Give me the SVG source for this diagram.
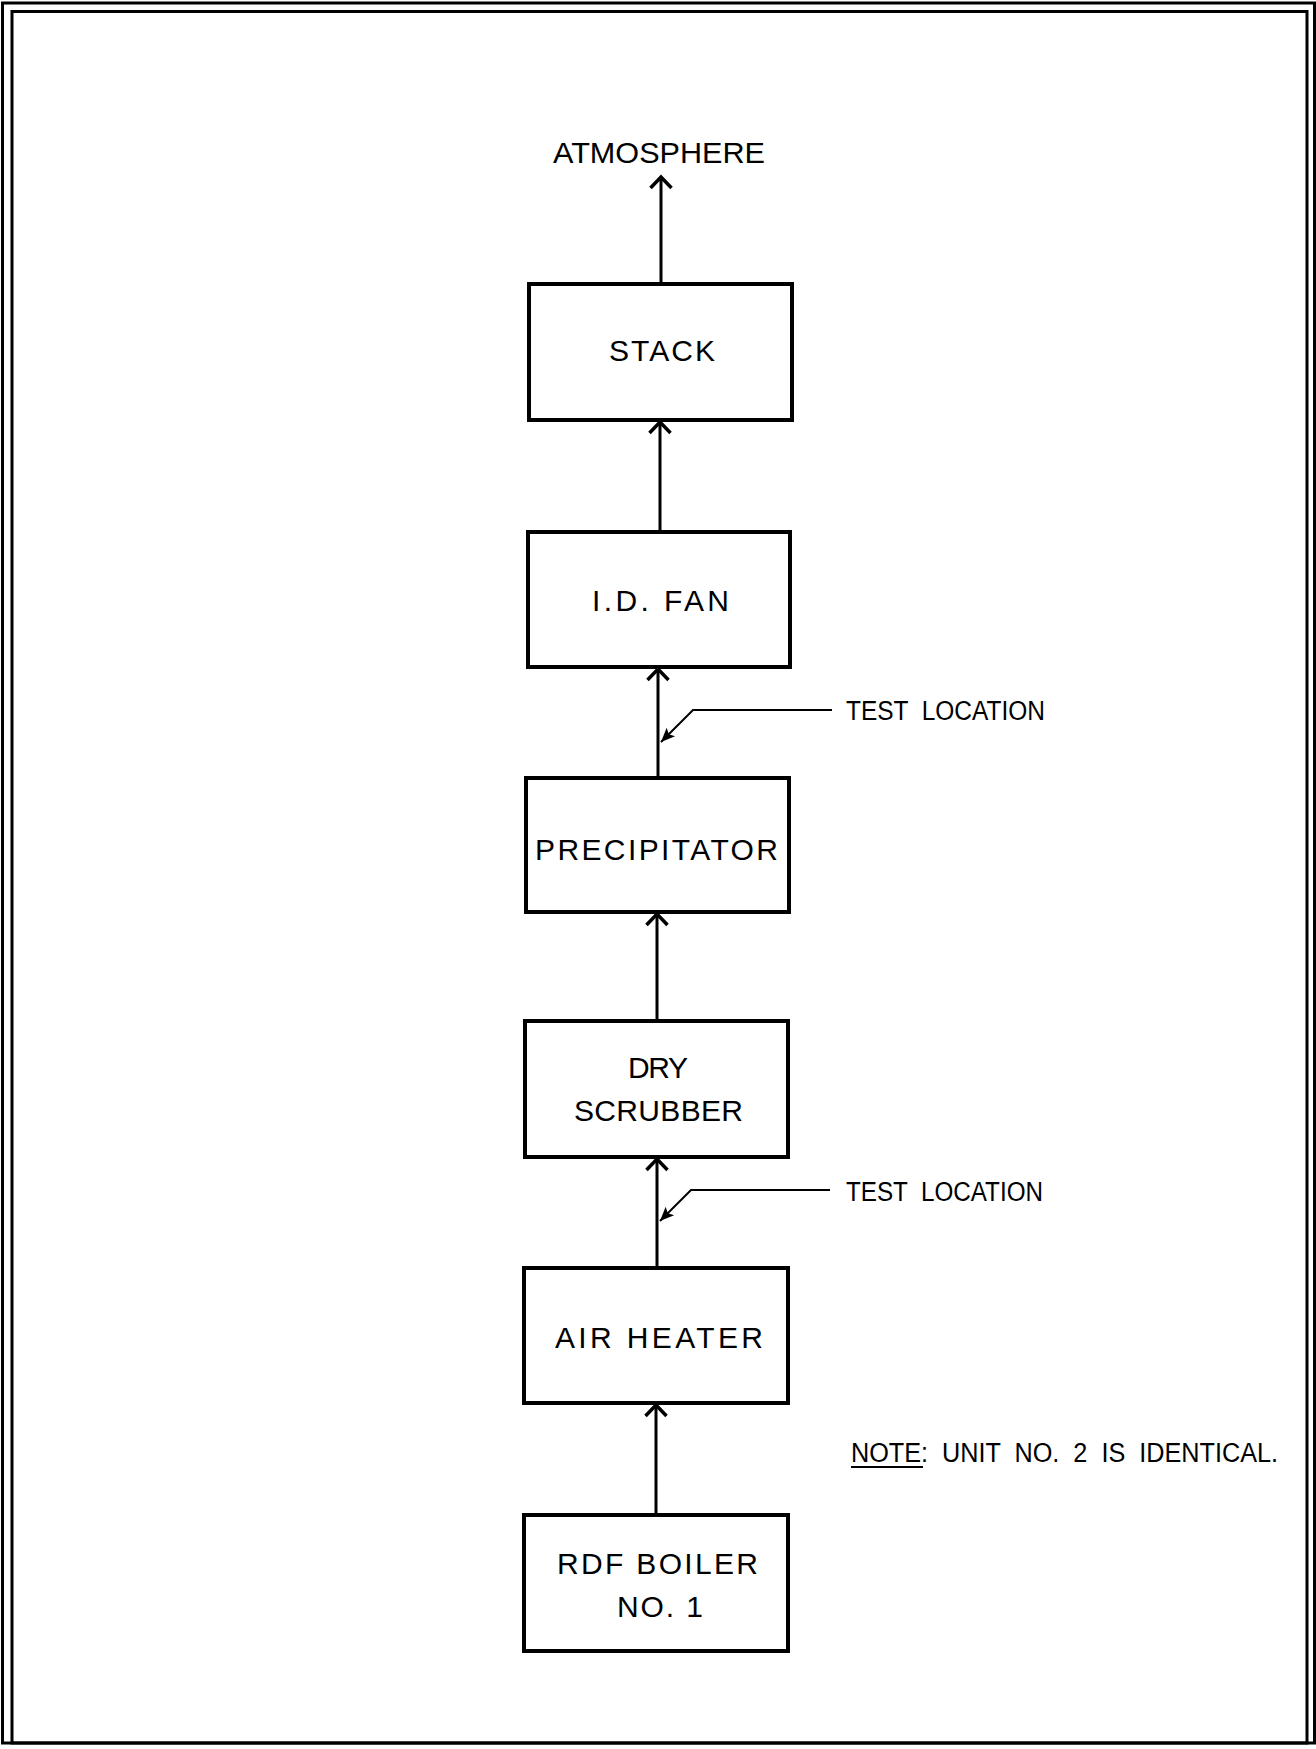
<svg xmlns="http://www.w3.org/2000/svg" width="1316" height="1749" viewBox="0 0 1316 1749">
<defs>
<style>
.box{fill:#fff;stroke:#000;stroke-width:4}
.frame{fill:none;stroke:#000}
.lbl{font-family:"Liberation Sans",Arial,sans-serif;font-size:30px;fill:#000}
.sm{font-family:"Liberation Sans",Arial,sans-serif;font-size:27px;fill:#000}
.flow{fill:none;stroke:#000;stroke-width:3}
.lead{fill:none;stroke:#000;stroke-width:2}
</style>
<marker id="open" markerUnits="userSpaceOnUse" markerWidth="30" markerHeight="30" refX="20" refY="15" orient="auto" viewBox="0 0 30 30" overflow="visible">
<path d="M9,4.5 L20,15 L9,25.5" fill="none" stroke="#000" stroke-width="3.5"/>
</marker>
<marker id="solid" markerUnits="userSpaceOnUse" markerWidth="20" markerHeight="20" refX="16" refY="10" orient="auto" viewBox="0 0 20 20" overflow="visible">
<path d="M2,4 L16,10 L2,16 L5,10 Z" fill="#000"/>
</marker>
</defs>
<rect width="1316" height="1749" fill="#fff"/>
<rect class="frame" x="2.5" y="3" width="1312" height="1740" stroke-width="3"/>
<rect class="frame" x="12" y="11.5" width="1295" height="1731.5" stroke-width="3"/>

<g id="connectors">
<line class="flow" x1="661" y1="283" x2="661" y2="177" marker-end="url(#open)"/>
<line class="flow" x1="660" y1="531" x2="660" y2="422" marker-end="url(#open)"/>
<line class="flow" x1="658" y1="777" x2="658" y2="669" marker-end="url(#open)"/>
<line class="flow" x1="657" y1="1020" x2="657" y2="914" marker-end="url(#open)"/>
<line class="flow" x1="657" y1="1268" x2="657" y2="1159" marker-end="url(#open)"/>
<line class="flow" x1="656" y1="1515" x2="656" y2="1405" marker-end="url(#open)"/>
<polyline class="lead" points="832,710 693,710 661,742" marker-end="url(#solid)"/>
<polyline class="lead" points="830,1190 691,1190 660,1221" marker-end="url(#solid)"/>
</g>

<g id="atmosphere">
<text class="lbl" x="553" y="163" textLength="212" lengthAdjust="spacingAndGlyphs">ATMOSPHERE</text>
</g>
<g id="stack">
<rect class="box" x="529" y="284" width="263" height="136"/>
<text class="lbl" x="609" y="361" textLength="106">STACK</text>
</g>
<g id="id-fan">
<rect class="box" x="528" y="532" width="262" height="135"/>
<text class="lbl" x="592" y="611" textLength="137">I.D. FAN</text>
</g>
<g id="precipitator">
<rect class="box" x="526" y="778" width="263" height="134"/>
<text class="lbl" x="535" y="860" textLength="243">PRECIPITATOR</text>
</g>
<g id="dry-scrubber">
<rect class="box" x="525" y="1021" width="263" height="136"/>
<text class="lbl" x="628" y="1078" textLength="60">DRY</text>
<text class="lbl" x="574" y="1121" textLength="169">SCRUBBER</text>
</g>
<g id="air-heater">
<rect class="box" x="524" y="1268" width="264" height="135"/>
<text class="lbl" x="555" y="1348" textLength="208">AIR HEATER</text>
</g>
<g id="rdf-boiler">
<rect class="box" x="524" y="1515" width="264" height="136"/>
<text class="lbl" x="557" y="1574" textLength="201">RDF BOILER</text>
<text class="lbl" x="617" y="1617" textLength="86">NO. 1</text>
</g>
<g id="test-location-1">
<text class="sm" x="846" y="720" textLength="199" lengthAdjust="spacingAndGlyphs" xml:space="preserve">TEST  LOCATION</text>
</g>
<g id="test-location-2">
<text class="sm" x="846" y="1201" textLength="197" lengthAdjust="spacingAndGlyphs" xml:space="preserve">TEST  LOCATION</text>
</g>
<g id="note">
<text class="sm" x="851" y="1462" textLength="427" lengthAdjust="spacingAndGlyphs" xml:space="preserve">NOTE:  UNIT  NO.  2  IS  IDENTICAL.</text>
<line x1="851" y1="1467" x2="923" y2="1467" stroke="#000" stroke-width="2"/>
</g>
</svg>
